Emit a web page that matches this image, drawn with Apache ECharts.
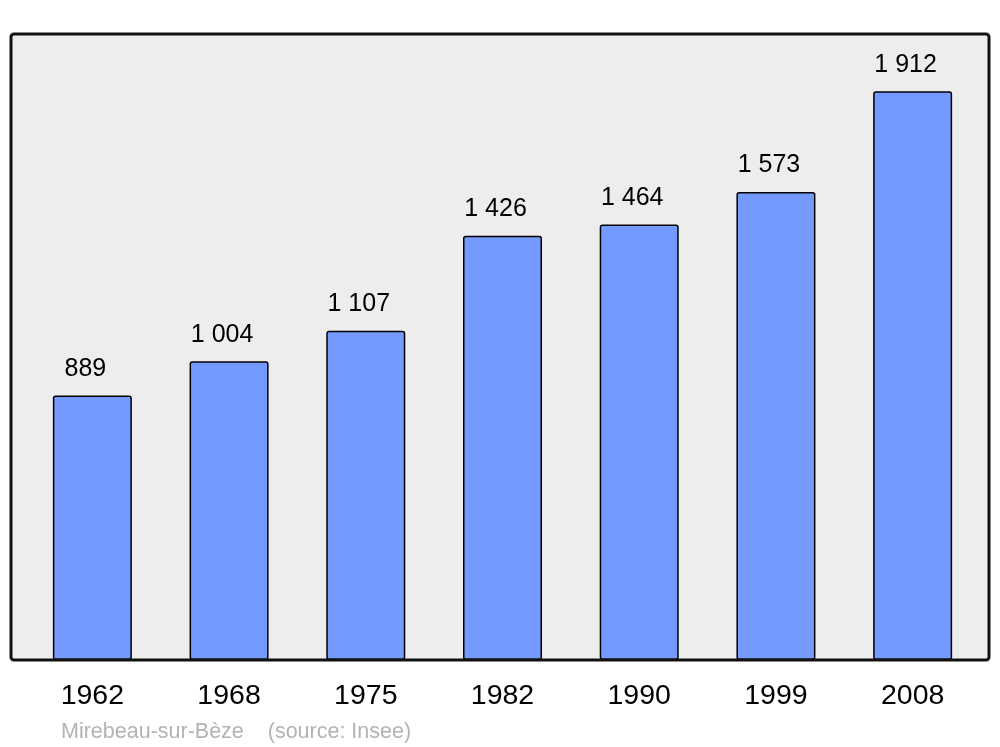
<!DOCTYPE html>
<html>
<head>
<meta charset="utf-8">
<script src="https://cdn.jsdelivr.net/npm/echarts@6/dist/echarts.min.js"></script>
<style>html,body{margin:0;padding:0;background:#fff}#c{width:1000px;height:747px}</style>
</head>
<body>
<div id="c"></div>
<script>
var years = ['1962', '1968', '1975', '1982', '1990', '1999', '2008'];
var population = [889, 1004, 1107, 1426, 1464, 1573, 1912];
var sourceText = 'Mirebeau-sur-Bèze    (source: Insee)';

function fmt(v) { return String(v).replace(/\B(?=(\d{3})+(?!\d))/g, ' '); }

var chart = echarts.init(document.getElementById('c'), null, {renderer: 'canvas'});
chart.setOption({
  animation: false,
  backgroundColor: '#ffffff',
  textStyle: {fontFamily: 'Liberation Sans, Arial, sans-serif'},
  grid: {left: 24, right: 19, top: 34, bottom: 87, containLabel: false},
  xAxis: {
    type: 'category', data: years,
    axisLine: {show: false}, axisTick: {show: false},
    axisLabel: {color: '#000', fontSize: 28.5, margin: 22, fontFamily: 'Liberation Sans, Arial, sans-serif'}
  },
  yAxis: {type: 'value', min: 0, max: 2104, show: false, splitLine: {show: false}},
  graphic: [
    {type: 'rect', z: -10, shape: {x: 11, y: 34, width: 978, height: 626, r: 3}, style: {fill: '#ededed', stroke: null}},
    {type: 'rect', z: 100, shape: {x: 11, y: 34, width: 978, height: 626, r: 3}, style: {fill: null, stroke: '#111', lineWidth: 3}},
    {type: 'text', left: 61, top: 721, style: {text: sourceText, fill: '#b3b3b3', fontSize: 21.5, fontFamily: 'Liberation Sans, Arial, sans-serif'}}
  ],
  series: [{
    type: 'bar', data: population, barWidth: 79,
    itemStyle: {color: '#7499ff', borderColor: '#000', borderWidth: 1.5, borderRadius: 2},
    label: {show: true, position: 'top', distance: 14, offset: [-7, 0], color: '#000', fontSize: 25,
      fontFamily: 'Liberation Sans, Arial, sans-serif', formatter: function (p) { return fmt(p.value); }}
  }]
});
</script>
</body>
</html>
